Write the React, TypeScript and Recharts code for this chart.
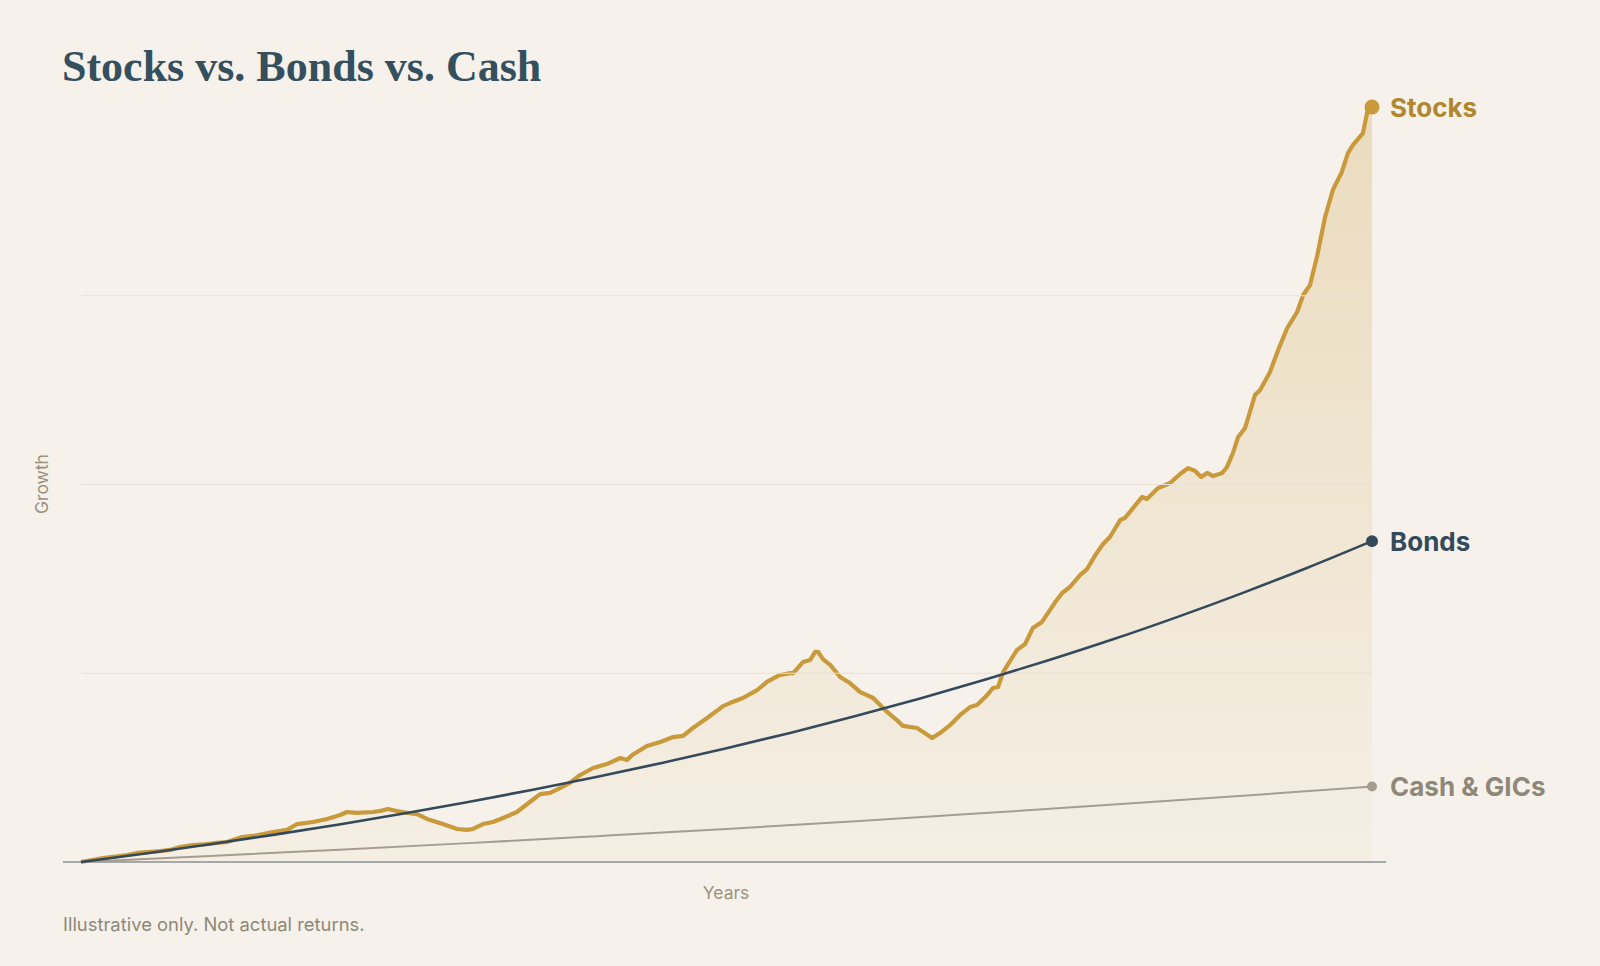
import { ComposedChart, Area, Line, XAxis, YAxis, ReferenceLine } from "recharts";

// years since start (x) and growth multiple above the starting value (y)
const STOCK_YEARS = [
  0, 0.51, 1.07, 1.3, 1.84, 2.07, 2.3, 2.6, 2.93, 3.16, 3.39, 3.74, 4.0, 4.46, 4.79, 5.02, 5.39, 5.72, 6.02,
  6.18, 6.41, 6.79, 6.95, 7.13, 7.34, 7.58, 7.81, 8.04, 8.41, 8.74, 8.97, 9.11, 9.34, 9.57, 9.81, 10.13,
  10.43, 10.67, 10.9, 11.13, 11.36, 11.6, 11.9, 12.22, 12.53, 12.69, 12.81, 13.15, 13.46, 13.76, 13.99,
  14.22, 14.55, 14.92, 15.08, 15.38, 15.71, 15.94, 16.24, 16.48, 16.55, 16.78, 16.94, 17.06, 17.13, 17.24,
  17.41, 17.64, 17.87, 18.1, 18.41, 18.73, 18.96, 19.1, 19.43, 19.57, 19.78, 19.96, 20.2, 20.43, 20.66,
  20.82, 21.06, 21.19, 21.31, 21.43, 21.75, 21.94, 22.12, 22.33, 22.64, 22.8, 22.98, 23.22, 23.38, 23.57,
  23.75, 23.91, 24.15, 24.26, 24.45, 24.66, 24.77, 25.03, 25.31, 25.54, 25.73, 25.89, 26.03, 26.17, 26.31,
  26.52, 26.63, 26.77, 26.89, 27.05, 27.28, 27.4, 27.63, 27.82, 28.03, 28.26, 28.4, 28.56, 28.72, 28.91,
  29.09, 29.3, 29.44, 29.56, 29.79, 29.91, 30,
];
const STOCK_GROWTH = [
  0, 0.021, 0.037, 0.048, 0.058, 0.064, 0.079, 0.09, 0.095, 0.101, 0.106, 0.132, 0.138, 0.159, 0.17, 0.201,
  0.212, 0.228, 0.249, 0.265, 0.26, 0.265, 0.27, 0.281, 0.27, 0.26, 0.254, 0.228, 0.201, 0.175, 0.17, 0.175,
  0.201, 0.212, 0.233, 0.265, 0.318, 0.36, 0.366, 0.392, 0.419, 0.461, 0.498, 0.519, 0.551, 0.54, 0.567,
  0.615, 0.636, 0.662, 0.668, 0.71, 0.763, 0.826, 0.842, 0.869, 0.911, 0.954, 0.991, 1.001, 1.001, 1.06,
  1.07, 1.113, 1.113, 1.075, 1.044, 0.98, 0.948, 0.901, 0.869, 0.795, 0.752, 0.721, 0.71, 0.689, 0.657,
  0.683, 0.726, 0.779, 0.821, 0.832, 0.885, 0.922, 0.927, 1.007, 1.123, 1.155, 1.24, 1.272, 1.377, 1.425,
  1.457, 1.521, 1.552, 1.626, 1.685, 1.722, 1.812, 1.823, 1.876, 1.934, 1.923, 1.981, 2.008, 2.056, 2.087,
  2.072, 2.04, 2.061, 2.045, 2.061, 2.093, 2.167, 2.252, 2.299, 2.474, 2.501, 2.596, 2.713, 2.829, 2.914,
  3.004, 3.057, 3.205, 3.417, 3.56, 3.656, 3.756, 3.799, 3.862, 3.995, 4.0,
];

const BOND_YEARS = [0, 1.5, 3, 4.5, 6, 7.5, 9, 10.5, 12, 13.5, 15, 16.5, 18, 19.5, 21, 22.5, 24, 25.5, 27, 28.5, 30];
const BOND_GROWTH = [
  0, 0.045, 0.094, 0.145, 0.199, 0.257, 0.318, 0.383, 0.452, 0.525, 0.603, 0.685, 0.773, 0.866, 0.965, 1.07,
  1.181, 1.3, 1.426, 1.559, 1.7,
];

const CASH_YEARS = [0, 3, 6, 9, 12, 15, 18, 21, 24, 27, 30];
const CASH_GROWTH = [0, 0.032, 0.065, 0.1, 0.137, 0.175, 0.216, 0.259, 0.304, 0.351, 0.4];

const GRID_LEVELS = [1, 2, 3];

const BG = "#f6f2eb";
const GOLD = "#c99a3c";
const SLATE = "#34495a";
const STONE = "#a59d90";

const stockData = STOCK_YEARS.map((t, i) => ({ t, v: STOCK_GROWTH[i] }));
const bondData = BOND_YEARS.map((t, i) => ({ t, v: BOND_GROWTH[i] }));
const cashData = CASH_YEARS.map((t, i) => ({ t, v: CASH_GROWTH[i] }));

// dot + name at the last point of a series only
function endMarker(count: number, color: string, r: number, name: string, nameColor: string) {
  return (props: any) => {
    const { cx, cy, index } = props;
    if (index !== count - 1) return <g key={`d-${name}-${index}`} />;
    return (
      <g key={`d-${name}-${index}`}>
        <circle cx={cx} cy={cy} r={r} fill={color} />
        <text
          x={cx + 18}
          y={cy}
          dominantBaseline="central"
          fill={nameColor}
          style={{ fontFamily: "Inter, sans-serif", fontSize: 26, fontWeight: 700 }}
        >
          {name}
        </text>
      </g>
    );
  };
}

const labelText = { fontFamily: "Inter, sans-serif", color: "#9a927f", fontSize: 17.5 };

export default function App() {
  return (
    <div style={{ position: "absolute", left: 0, top: 0, width: 1600, height: 966, background: BG, overflow: "hidden" }}>
      <div
        style={{
          position: "absolute",
          left: 62,
          top: 45,
          fontFamily: "'Liberation Serif', serif",
          fontWeight: 700,
          fontSize: 44,
          lineHeight: "44px",
          color: "#34505f",
          whiteSpace: "nowrap",
        }}
      >
        Stocks vs. Bonds vs. Cash
      </div>

      <div style={{ position: "absolute", left: 0, top: 0 }}>
        <ComposedChart width={1600} height={966} data={stockData} margin={{ top: 107, right: 228, bottom: 104, left: 81 }}>
          <defs>
            <linearGradient id="stockFill" x1="0" y1="0" x2="0" y2="1">
              <stop offset="0%" stopColor={GOLD} stopOpacity={0.26} />
              <stop offset="100%" stopColor={GOLD} stopOpacity={0.04} />
            </linearGradient>
          </defs>
          <XAxis type="number" dataKey="t" domain={[0, 30]} hide />
          <YAxis type="number" domain={[0, 4]} hide />
          {GRID_LEVELS.map((g) => (
            <ReferenceLine key={g} y={g} stroke="#e6e0d6" strokeWidth={1} />
          ))}
          <ReferenceLine
            segment={[{ x: -0.42, y: 0 }, { x: 30.33, y: 0 }]}
            stroke="#8a9191"
            strokeWidth={1.6}
            ifOverflow="visible"
          />
          <Line
            data={cashData}
            dataKey="v"
            type="monotone"
            stroke={STONE}
            strokeWidth={2}
            dot={endMarker(cashData.length, STONE, 5, "Cash & GICs", "#8f8878")}
            activeDot={false}
            isAnimationActive={false}
          />
          <Line
            data={bondData}
            dataKey="v"
            type="monotone"
            stroke={SLATE}
            strokeWidth={2.6}
            dot={endMarker(bondData.length, SLATE, 6, "Bonds", SLATE)}
            activeDot={false}
            isAnimationActive={false}
          />
          <Area
            dataKey="v"
            type="linear"
            stroke={GOLD}
            strokeWidth={4.2}
            strokeLinejoin="round"
            fill="url(#stockFill)"
            fillOpacity={1}
            baseValue={0}
            dot={endMarker(stockData.length, GOLD, 7.5, "Stocks", "#b0862f")}
            activeDot={false}
            isAnimationActive={false}
          />
        </ComposedChart>
      </div>

      <div
        style={{
          ...labelText,
          position: "absolute",
          left: 41,
          top: 484,
          transform: "translate(-50%, -50%) rotate(-90deg)",
          whiteSpace: "nowrap",
        }}
      >
        Growth
      </div>
      <div
        style={{
          ...labelText,
          position: "absolute",
          left: 726,
          top: 892,
          transform: "translate(-50%, -50%)",
          whiteSpace: "nowrap",
        }}
      >
        Years
      </div>
      <div
        style={{
          fontFamily: "Inter, sans-serif",
          color: "#8f8878",
          fontSize: 18.4,
          position: "absolute",
          left: 63,
          top: 913,
          whiteSpace: "nowrap",
        }}
      >
        Illustrative only. Not actual returns.
      </div>
    </div>
  );
}
